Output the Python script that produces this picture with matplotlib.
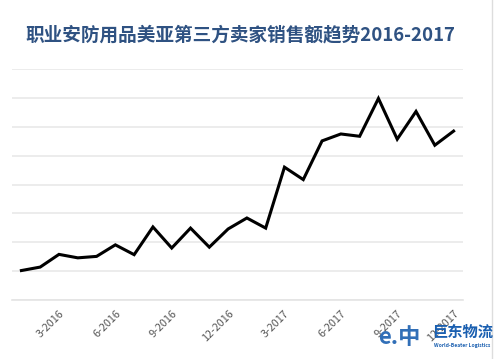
import numpy as np
import matplotlib
matplotlib.use("Agg")
import matplotlib.pyplot as plt

plt.rcParams['font.family'] = ['Noto Sans CJK SC', 'DejaVu Sans']

# monthly sales index, Jan 2016 .. Dec 2017 (grid units)
months = list(range(1, 25))
sales = [1.02, 1.14, 1.58, 1.46, 1.51, 1.91, 1.57, 2.53, 1.80, 2.49, 1.83, 2.46,
         2.84, 2.49, 4.60, 4.17, 5.51, 5.75, 5.67, 6.98, 5.57, 6.53, 5.36, 5.85]
tick_pos = [3, 6, 9, 12, 15, 18, 21, 24]
tick_labels = ['3-2016', '6-2016', '9-2016', '12-2016',
               '3-2017', '6-2017', '9-2017', '12-2017']
title = '职业安防用品美亚第三方卖家销售额趋势2016-2017'

fig = plt.figure(figsize=(4.96, 3.59), dpi=100)
ax = fig.add_axes([12/496, 1-300/359, (463-12)/496, (300-69)/359])

ax.plot(months, sales, color='black', lw=2.2, solid_joinstyle='miter', zorder=3)

ax.set_xlim(0.5, 24.5)
ax.set_ylim(0, 8)
ax.set_yticks(np.arange(0, 9))
ax.yaxis.grid(True, color='#e9e9e9', lw=1.2)
ax.tick_params(axis='y', left=False, labelleft=False)
ax.set_xticks(tick_pos)
ax.set_xticklabels(tick_labels, rotation=45, ha='right', va='top',
                   rotation_mode='anchor', fontsize=7.8, color='#555555')
ax.tick_params(axis='x', length=0, pad=6)
for s in ['top', 'right', 'left']:
    ax.spines[s].set_visible(False)
ax.spines['bottom'].set_color('#e4e4e4')
ax.spines['bottom'].set_linewidth(1.2)
ax.set_axisbelow(True)

fig.text(25/496, 1-35/359, title, fontsize=13.4, fontweight='bold',
         color='#2f5282', va='center', ha='left')

# light border on the right edge
fig.add_artist(plt.Line2D([492/496, 492/496], [0, 1], color='#dddddd', lw=1,
                          transform=fig.transFigure))

# watermark
fig.text(432/496, 1-332/359, '巨东物流', fontsize=11, fontweight='bold',
         color='#1a5fb0', ha='left', va='center')
fig.text(434/496, 1-345/359, 'World-Beater Logistics', fontsize=3.6,
         fontweight='bold', color='#1a5fb0', ha='left', va='center')
fig.text(378/496, 1-337/359, 'e.中', fontsize=16, fontweight='bold',
         fontstyle='italic', color='#1a5fb0', ha='left', va='center', alpha=0.9)

fig.savefig('out.png', dpi=100, facecolor='white')
